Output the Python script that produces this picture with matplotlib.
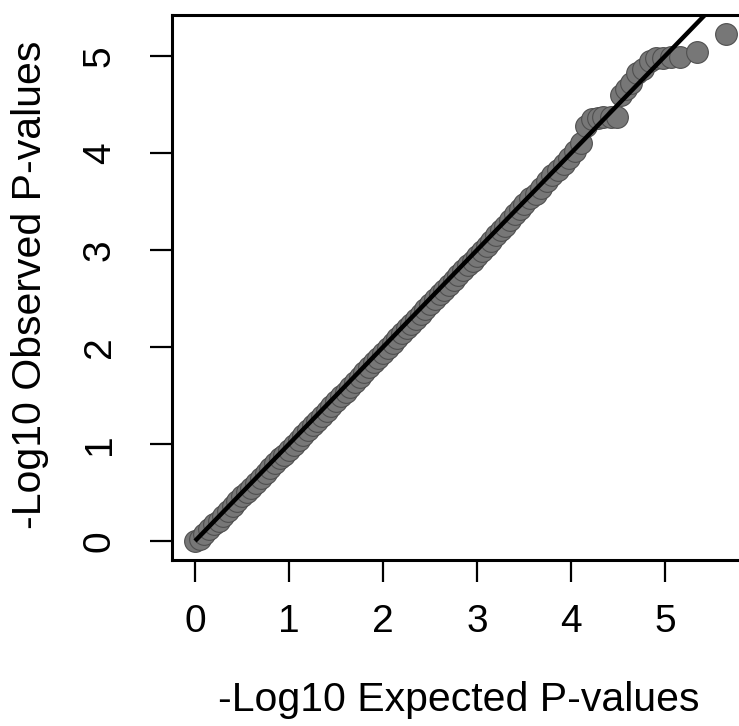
import matplotlib
matplotlib.use('Agg')
import matplotlib.pyplot as plt

plt.rcParams['font.family'] = ['Liberation Sans', 'DejaVu Sans']

# -log10 expected vs observed p-values
expected = [0.00, 0.05, 0.10, 0.15, 0.20, 0.25, 0.30, 0.35, 0.40, 0.45,
            0.50, 0.55, 0.60, 0.65, 0.70, 0.75, 0.80, 0.85, 0.90, 0.95,
            1.00, 1.05, 1.10, 1.15, 1.20, 1.25, 1.30, 1.35, 1.40, 1.45,
            1.50, 1.55, 1.60, 1.65, 1.70, 1.75, 1.80, 1.85, 1.90, 1.95,
            2.00, 2.05, 2.10, 2.15, 2.20, 2.25, 2.30, 2.35, 2.40, 2.45,
            2.50, 2.55, 2.60, 2.65, 2.70, 2.75, 2.80, 2.85, 2.90, 2.95,
            3.00, 3.05, 3.10, 3.15, 3.20, 3.25, 3.30, 3.35, 3.40, 3.45,
            3.50, 3.56, 3.62, 3.68, 3.74, 3.80, 3.86, 3.92, 3.98, 4.04,
            4.10, 4.16, 4.22, 4.28, 4.34, 4.42, 4.49, 4.53, 4.58, 4.64,
            4.70, 4.76, 4.84, 4.90, 4.98, 5.06, 5.16, 5.34, 5.64]
observed = [0.00, 0.02, 0.07, 0.12, 0.17, 0.21, 0.26, 0.31, 0.36, 0.41,
            0.46, 0.50, 0.55, 0.60, 0.65, 0.70, 0.75, 0.80, 0.85, 0.89,
            0.94, 0.99, 1.04, 1.09, 1.14, 1.19, 1.24, 1.29, 1.34, 1.39,
            1.44, 1.49, 1.54, 1.59, 1.64, 1.69, 1.74, 1.79, 1.84, 1.89,
            1.94, 1.99, 2.04, 2.09, 2.14, 2.19, 2.24, 2.29, 2.34, 2.39,
            2.44, 2.49, 2.54, 2.59, 2.64, 2.69, 2.74, 2.79, 2.84, 2.89,
            2.94, 2.99, 3.04, 3.09, 3.15, 3.20, 3.25, 3.31, 3.37, 3.42,
            3.47, 3.53, 3.58, 3.64, 3.71, 3.77, 3.82, 3.88, 3.95, 4.02,
            4.10, 4.28, 4.35, 4.36, 4.37, 4.37, 4.37, 4.60, 4.66, 4.72,
            4.82, 4.86, 4.95, 4.98, 4.98, 4.99, 4.99, 5.04, 5.22]

ticks = [0, 1, 2, 3, 4, 5]
diag = [0, 6]  # y = x reference line

W, H = 739, 726
fig = plt.figure(figsize=(W / 100, H / 100), dpi=100)

# axes box runs off the right edge like in the scan
ax = fig.add_axes([172 / W, (H - 560) / H, 578 / W, 545 / H])
ax.set_xlim(-0.245, 5.9)
ax.set_ylim(-0.196, 5.42)

ax.scatter(expected, observed, s=245, color='#777777', edgecolors='#4f4f4f',
           linewidths=0.8, zorder=2, clip_on=False)
ax.plot(diag, diag, color='black', lw=3.2, zorder=3, solid_capstyle='butt')

ax.set_xticks(ticks)
ax.set_yticks(ticks)
ax.tick_params(axis='both', direction='out', length=16, width=1.6,
               labelsize=28, colors='black')
ax.tick_params(axis='x', pad=16)
ax.tick_params(axis='y', pad=23)
for lab in ax.get_yticklabels():
    lab.set_rotation(90)
    lab.set_va('center')

for side in ['left', 'top', 'bottom', 'right']:
    ax.spines[side].set_linewidth(2.2)

fig.text(459 / W, 1 - 700 / H, '-Log10 Expected P-values', fontsize=29.5,
         ha='center', va='center')
fig.text(30 / W, 1 - 285 / H, '-Log10 Observed P-values', fontsize=29.5,
         ha='center', va='center', rotation=90)

fig.savefig('out.png', dpi=100)
